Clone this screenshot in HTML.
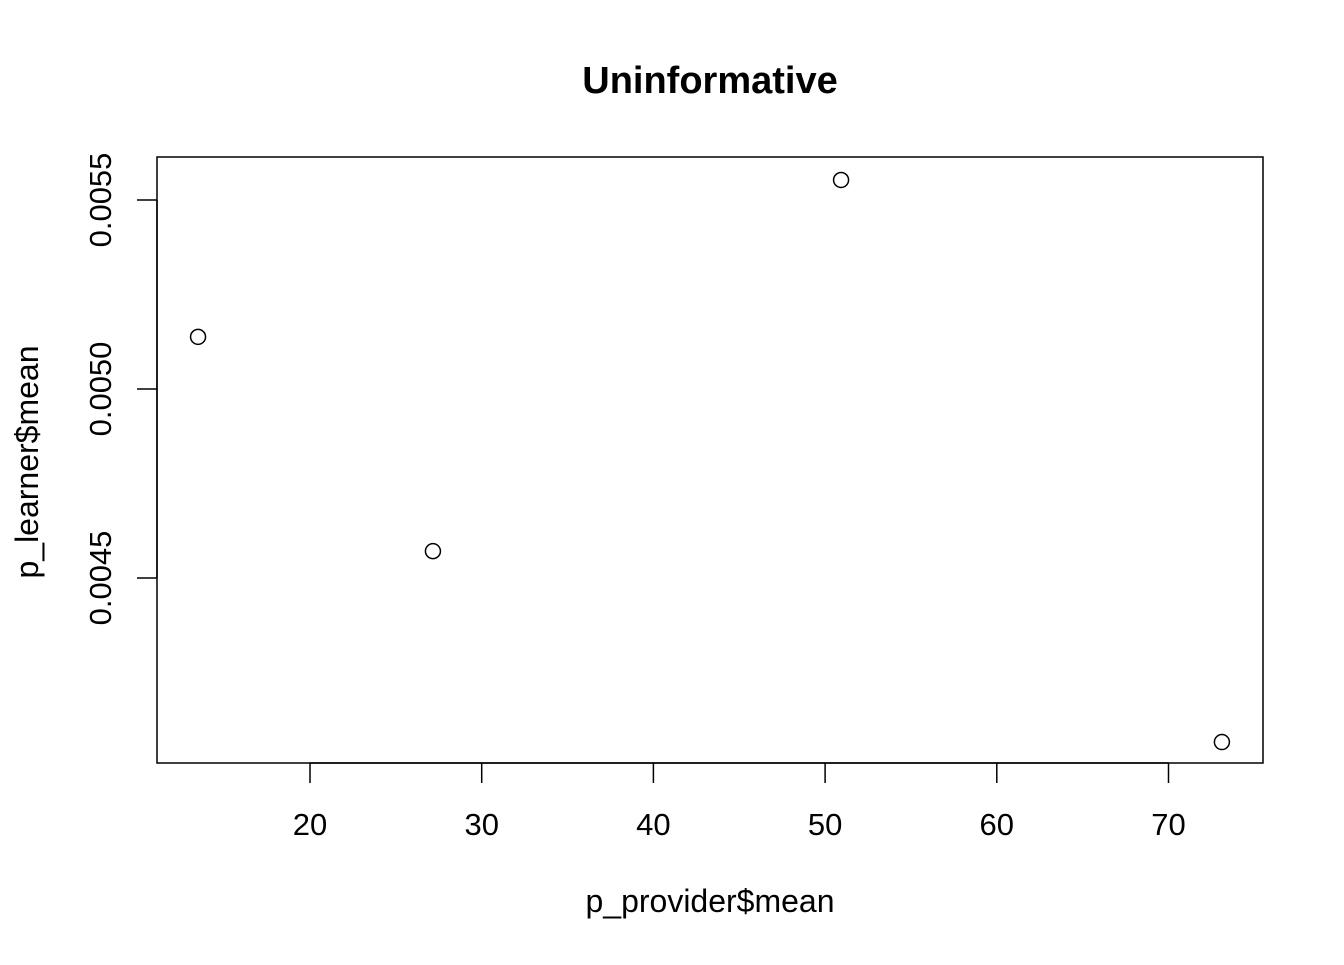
<!DOCTYPE html>
<html><head><meta charset="utf-8"><style>
html,body{margin:0;padding:0;background:#fff}
svg text{font-family:"Liberation Sans",Arial,sans-serif;fill:#000}
</style></head><body>
<svg id="chart" width="1344" height="960" xmlns="http://www.w3.org/2000/svg">
<text x="710" y="93" text-anchor="middle" font-size="38" font-weight="bold">Uninformative</text>
<rect x="157" y="157" width="1106" height="606" fill="none" stroke="#000" stroke-width="1.5"/>
<text x="710" y="912" text-anchor="middle" font-size="32">p_provider$mean</text>
<text transform="translate(38,462) rotate(-90)" text-anchor="middle" font-size="32">p_learner$mean</text>
<g id="xaxis"></g>
<g id="yaxis"></g>
<g id="points"></g>
</svg>
<script>
const xValues = [13.48, 27.16, 50.93, 73.11];
const yValues = [0.005138, 0.004571, 0.005553, 0.004066];
const xTicks = [20, 30, 40, 50, 60, 70];
const yTicks = [0.0045, 0.0050, 0.0055];
const yTickLabels = ["0.0045", "0.0050", "0.0055"];

const NS = "http://www.w3.org/2000/svg";
function sx(v){ return 310 + (v - 20) * 17.17; }
function sy(v){ return 389 - (v - 0.005) / 0.0005 * 189; }
function mk(tag, attrs, parent){
  const e = document.createElementNS(NS, tag);
  for (const k in attrs) e.setAttribute(k, attrs[k]);
  parent.appendChild(e);
  return e;
}
const xa = document.getElementById('xaxis');
mk('line', {x1: sx(xTicks[0]), x2: sx(xTicks[xTicks.length-1]), y1: 763, y2: 763, stroke: '#000', 'stroke-width': 1.5}, xa);
xTicks.forEach(t => {
  const l = mk('line', {x1: sx(t), x2: sx(t), y1: 763, y2: 783, stroke: '#000', 'stroke-width': 1.5}, xa);
  
  
  const tx = mk('text', {x: sx(t), y: 835, 'text-anchor': 'middle', 'font-size': 31}, xa);
  tx.textContent = t;
  
  
});
const ya = document.getElementById('yaxis');
mk('line', {x1: 157, x2: 157, y1: sy(yTicks[0]), y2: sy(yTicks[yTicks.length-1]), stroke: '#000', 'stroke-width': 1.5}, ya);
yTicks.forEach((t, i) => {
  const l = mk('line', {x1: 137, x2: 157, y1: sy(t), y2: sy(t), stroke: '#000', 'stroke-width': 1.5}, ya);
  
  
  const tx = mk('text', {x: 0, y: 0, 'text-anchor': 'middle', 'font-size': 31, transform: 'translate(111,' + sy(t) + ') rotate(-90)'}, ya);
  tx.textContent = yTickLabels[i];
  
  
});
const pg = document.getElementById('points');
xValues.forEach((x, i) => {
  const c = mk('circle', {cx: sx(x), cy: sy(yValues[i]), r: 7.5, fill: 'none', stroke: '#000', 'stroke-width': 1.5}, pg);
  
  
});
</script>
</body></html>
